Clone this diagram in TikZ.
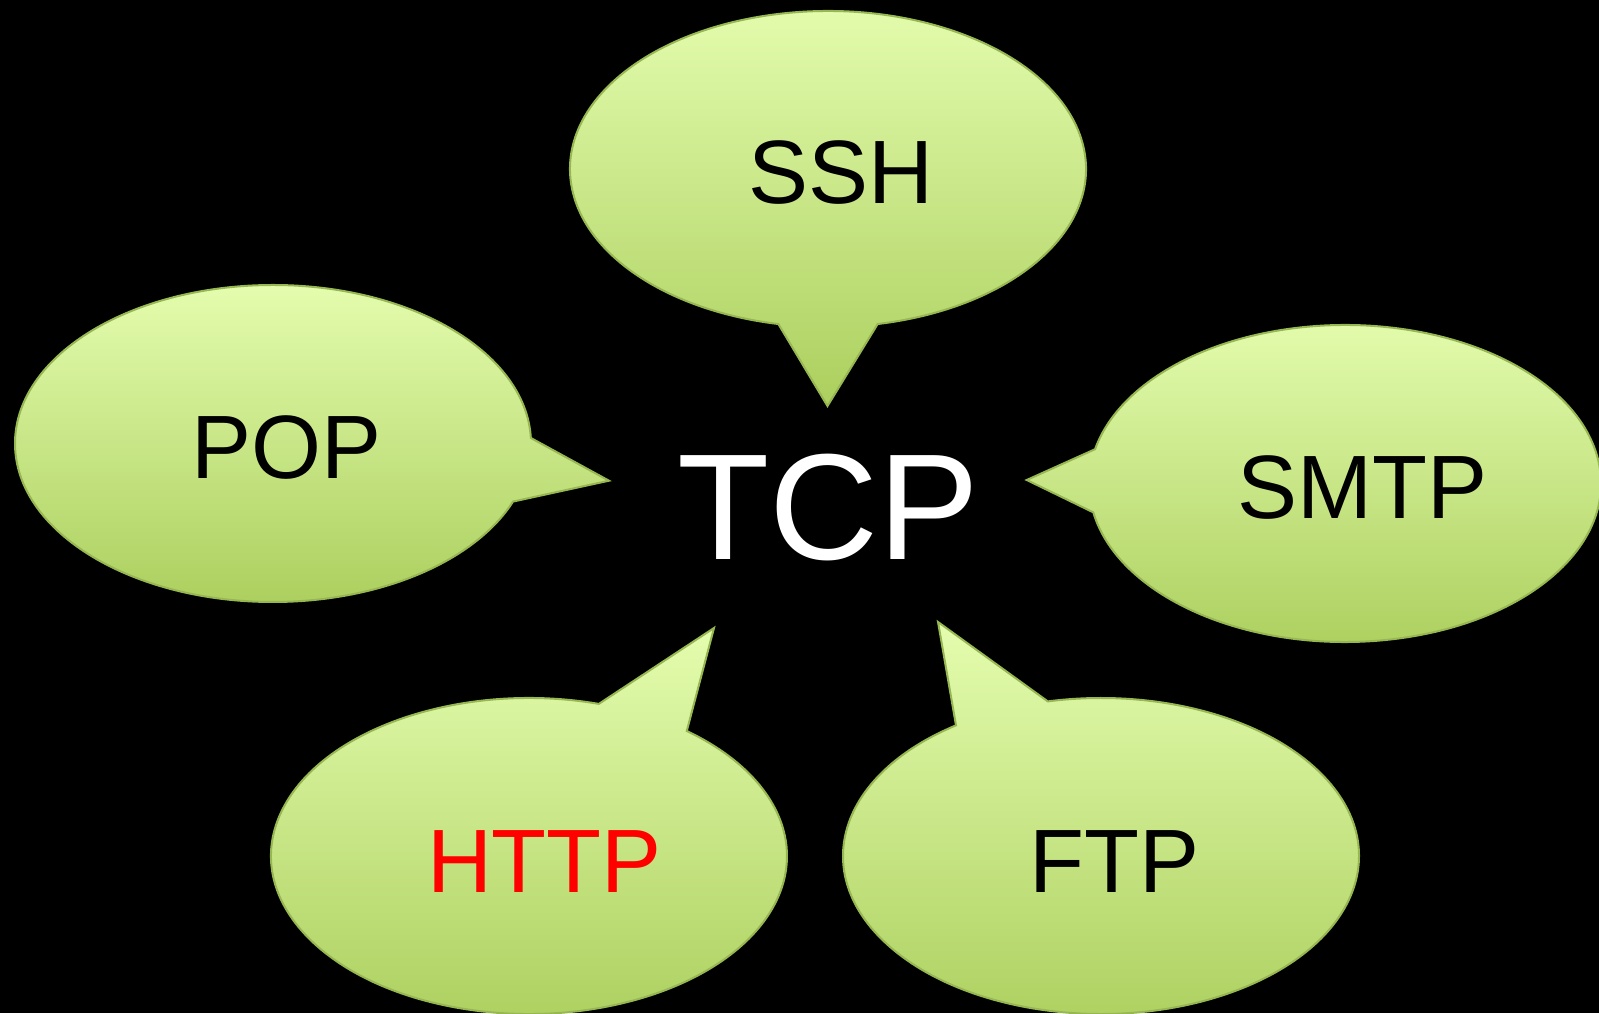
\documentclass[tikz,border=0pt]{standalone}
\usepackage{fontspec}
\setmainfont{Liberation Sans}
\definecolor{bubbletop}{RGB}{228,253,175}
\definecolor{bubblebottom}{RGB}{172,207,94}
\definecolor{bubbleedge}{RGB}{150,183,82}
\definecolor{hotred}{RGB}{255,0,0}
\tikzset{
  bubble/.style={top color=bubbletop, bottom color=bubblebottom,
    draw=bubbleedge, line width=2pt, line join=miter},
  proto/.style={inner sep=0pt, anchor=base, text=black,
    font=\fontsize{90}{100}\selectfont},
  hub/.style={inner sep=0pt, anchor=base, text=white,
    font=\fontsize{151}{170}\selectfont}
}
\begin{document}
\begin{tikzpicture}[x=1pt,y=1pt]
\fill[black] (0,0) rectangle (1599,1013);
\useasboundingbox (0,0) rectangle (1599,1013);
\clip (0,0) rectangle (1599,1013);

% ellipse centres and tail tips of the speech bubbles
\coordinate (sshC) at (828,844);   \coordinate (sshTip) at (827.5,607);
\coordinate (popC) at (273,569.5); \coordinate (popTip) at (609,532.3);
\coordinate (smtpC) at (1345,529.5); \coordinate (smtpTip) at (1026.7,533);
\coordinate (httpC) at (529,157);  \coordinate (httpTip) at (714,385);
\coordinate (ftpC) at (1101,157);  \coordinate (ftpTip) at (938,391);

% each bubble: the long arc of the ellipse, then the pointed tail
\path[bubble] (sshC) ++(281.1:258 and 158)
  arc[start angle=281.1, end angle=618.9, x radius=258, y radius=158]
  -- (sshTip) -- cycle;
\path[bubble] (popC) ++(2:258 and 158.5)
  arc[start angle=2, end angle=338.5, x radius=258, y radius=158.5]
  -- (popTip) -- cycle;
\path[bubble] (smtpC) ++(190.5:256 and 158.5)
  arc[start angle=190.5, end angle=527.5, x radius=256, y radius=158.5]
  -- (smtpTip) -- cycle;
\path[bubble] (httpC) ++(74.3:258 and 158)
  arc[start angle=74.3, end angle=412.3, x radius=258, y radius=158]
  -- (httpTip) -- cycle;
\path[bubble] (ftpC) ++(124.2:258 and 158)
  arc[start angle=124.2, end angle=461.9, x radius=258, y radius=158]
  -- (ftpTip) -- cycle;

% labels
\node[proto] (ssh) at (841,809) {SSH};
\node[proto] (pop) at (286.7,534) {POP};
\node[proto] (smtp) at (1362.7,494) {SMTP};
\node[proto, text=hotred] (http) at (544.5,121) {HTTP};
\node[proto] (ftp) at (1114.7,121) {FTP};
\node[hub] (tcp) at (828,453.7) {TCP};
\end{tikzpicture}
\end{document}
